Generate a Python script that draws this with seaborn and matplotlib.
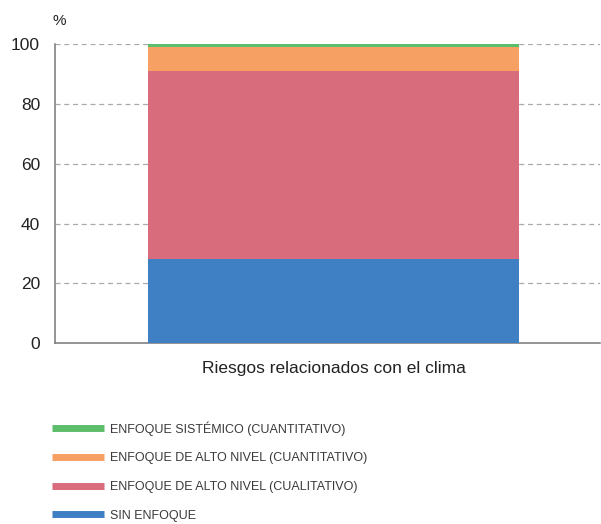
import matplotlib
matplotlib.use("Agg")
import matplotlib.pyplot as plt
from matplotlib.lines import Line2D
import numpy as np
import pandas as pd
import seaborn as sns

# === data ===
CATEGORY = ["Riesgos relacionados con el clima"]
SERIES = [
    "SIN ENFOQUE",
    "ENFOQUE DE ALTO NIVEL (CUALITATIVO)",
    "ENFOQUE DE ALTO NIVEL (CUANTITATIVO)",
    "ENFOQUE SISTÉMICO (CUANTITATIVO)",
]
VALUES = [28, 63, 8, 1]
COLORS = ["#3f7fc3", "#d86c7c", "#f7a064", "#5cbd6a"]
Y_TICKS = [0, 20, 40, 60, 80, 100]

sns.set_style("white")
plt.rcParams["font.family"] = ["Liberation Sans", "DejaVu Sans"]

fig = plt.figure(figsize=(6.01, 5.24), dpi=100)
ax = fig.add_axes([0.092, 0.345, 0.906, 0.571])

# stacked bar: draw cumulative totals from the top segment down
cum = np.cumsum(VALUES)
for i in range(len(SERIES) - 1, -1, -1):
    df = pd.DataFrame({"cat": CATEGORY, "val": [cum[i]]})
    sns.barplot(data=df, x="cat", y="val", color=COLORS[i], width=0.68,
                saturation=1, linewidth=0, ax=ax, zorder=3)

ax.set_ylim(0, 100)
ax.set_xlim(-0.51, 0.488)
ax.set_yticks(Y_TICKS)
ax.set_xlabel("")
ax.set_ylabel("")
ax.tick_params(axis="y", labelsize=12.5, colors="#222222", direction="in",
               length=3, color="#999999", pad=11)
ax.tick_params(axis="x", labelsize=12.5, colors="#222222", length=0, pad=12.5)
ax.yaxis.grid(True, linestyle=(0, (4, 3)), color="#aaaaaa", linewidth=0.9)
ax.set_axisbelow(True)
for s in ["top", "right"]:
    ax.spines[s].set_visible(False)
for s in ["left", "bottom"]:
    ax.spines[s].set_color("#777777")
    ax.spines[s].set_linewidth(1.1)

fig.text(0.087, 0.953, "%", fontsize=11, color="#222222")

# legend, top entry first
handles = [Line2D([0], [0], color=COLORS[i], lw=5, solid_capstyle="butt")
           for i in range(len(SERIES) - 1, -1, -1)]
labels = [SERIES[i] for i in range(len(SERIES) - 1, -1, -1)]
fig.legend(handles, labels, loc="upper left", bbox_to_anchor=(0.079, 0.206),
           frameon=False, handlelength=4.1, handletextpad=0.5, labelspacing=1.34,
           prop={"family": ["Liberation Sans", "DejaVu Sans"], "size": 9},
           labelcolor="#3a3a3a", borderaxespad=0)

fig.savefig("out.png", dpi=100)
